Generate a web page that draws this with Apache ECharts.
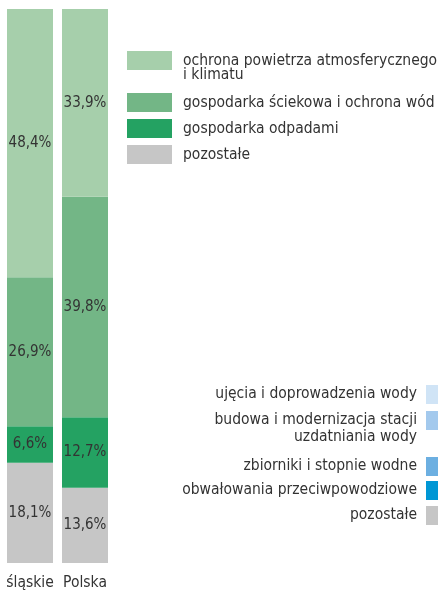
<!DOCTYPE html>
<html>
<head>
<meta charset="utf-8">
<script src="https://cdn.jsdelivr.net/npm/echarts@6/dist/echarts.min.js"></script>
<style>
  html, body { margin: 0; padding: 0; background: #fff; }
  #chart { width: 438px; height: 591px; }
</style>
</head>
<body>
<div id="chart"></div>
<script>
var categories = ["śląskie", "Polska"];
var powietrze = [48.4, 33.9];
var sciekowa = [26.9, 39.8];
var odpady = [6.6, 12.7];
var pozostale = [18.1, 13.6];

var seriesNames = [
  "ochrona powietrza atmosferycznego\ni klimatu",
  "gospodarka ściekowa i ochrona wód",
  "gospodarka odpadami",
  "pozostałe"
];
var greens = ["#a6cfab", "#73b686", "#24a262", "#c6c6c6"];

// second legend (water categories)
var waterNames = [
  "ujęcia i doprowadzenia wody",
  "budowa i modernizacja stacji\nuzdatniania wody",
  "zbiorniki i stopnie wodne",
  "obwałowania przeciwpowodziowe",
  "pozostałe"
];
var waterColors = ["#d0e4f6", "#a3c9ed", "#6cafe1", "#0097d5", "#c6c6c6"];
var waterRowY = [394, 420, 466, 490, 515];

var font = "'DejaVu Sans Condensed', 'Roboto', sans-serif";
var textColor = "#333333";

function fmt(p) {
  return p.value.toFixed(1).replace(".", ",") + "%";
}

function bar(name, data, color) {
  return {
    name: name,
    type: "bar",
    stack: "total",
    barWidth: 46,
    data: data,
    itemStyle: { color: color },
    label: {
      show: true,
      position: "inside",
      formatter: fmt,
      color: textColor,
      fontSize: 15,
      fontFamily: font
    }
  };
}

var graphics = [];
waterNames.forEach(function (n, i) {
  graphics.push({
    type: "rect",
    x: 426,
    y: waterRowY[i] - 9,
    shape: { width: 12, height: 19 },
    style: { fill: waterColors[i] }
  });
  graphics.push({
    type: "text",
    x: 417,
    y: waterRowY[i] - 9,
    style: {
      text: n,
      fill: textColor,
      font: "15.5px " + font,
      align: "right",
      verticalAlign: "top",
      lineHeight: 17
    }
  });
});

var legendBase = {
  orient: "vertical",
  left: 127,
  padding: 0,
  itemWidth: 45,
  itemHeight: 19,
  itemGap: 7,
  icon: "rect",
  selectedMode: false
};

var myChart = echarts.init(document.getElementById("chart"));
myChart.setOption({
  animation: false,
  grid: { left: 2.5, top: 9, width: 110, bottom: 28 },
  xAxis: {
    type: "category",
    data: categories,
    axisLine: { show: false },
    axisTick: { show: false },
    axisLabel: { interval: 0, color: textColor, fontSize: 15.5, fontFamily: font, margin: 12 }
  },
  yAxis: {
    type: "value",
    min: 0,
    max: 100,
    show: false
  },
  legend: [
    Object.assign({}, legendBase, {
      top: 38,
      data: [seriesNames[0]],
      // blank first line so the first text line sits level with the swatch
      formatter: function (name) { return "\n" + name; },
      textStyle: { color: textColor, fontSize: 15.5, fontFamily: font, lineHeight: 14.5, padding: [0, 0, 0, 6] }
    }),
    Object.assign({}, legendBase, {
      top: 93,
      data: seriesNames.slice(1),
      textStyle: { color: textColor, fontSize: 15.5, fontFamily: font, padding: [0, 0, 0, 6] }
    })
  ],
  graphic: graphics,
  series: [
    bar(seriesNames[3], pozostale, greens[3]),
    bar(seriesNames[2], odpady, greens[2]),
    bar(seriesNames[1], sciekowa, greens[1]),
    bar(seriesNames[0], powietrze, greens[0])
  ]
});
</script>
</body>
</html>
